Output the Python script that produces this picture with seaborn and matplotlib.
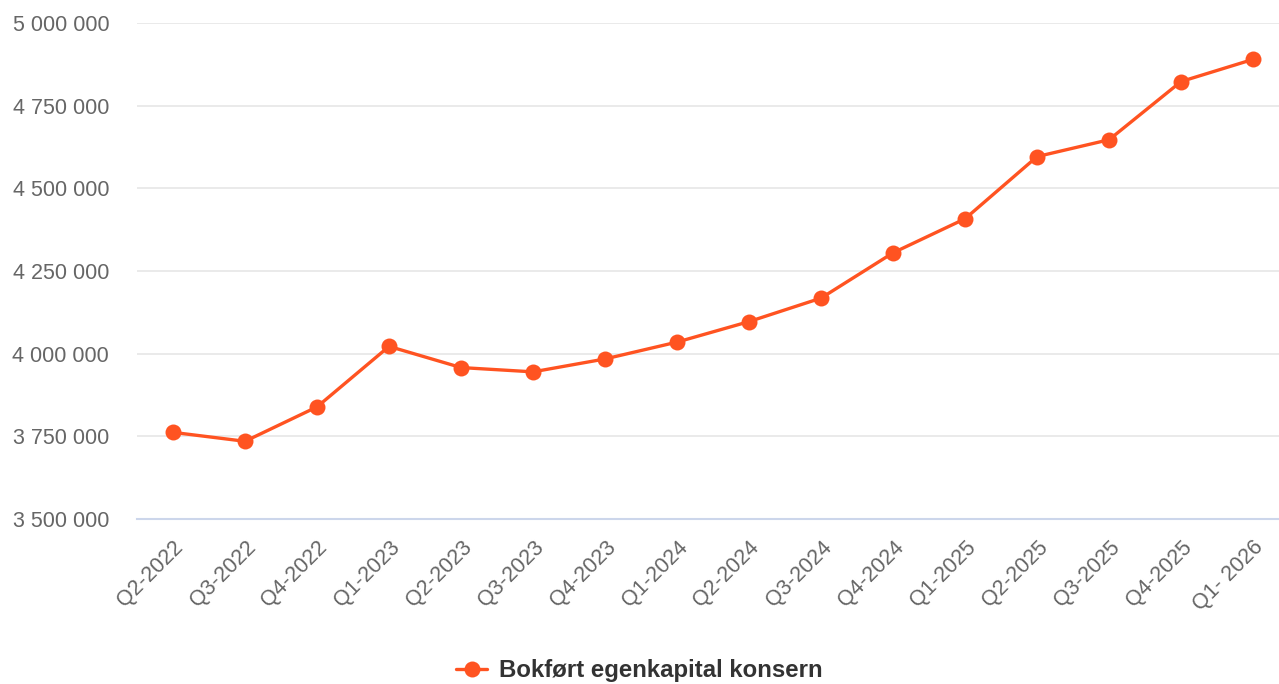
import pandas as pd
import matplotlib
matplotlib.use("Agg")
import matplotlib.pyplot as plt
import matplotlib.ticker as mticker
import seaborn as sns


# Data
quarters = ["Q2-2022", "Q3-2022", "Q4-2022", "Q1-2023", "Q2-2023", "Q3-2023",
            "Q4-2023", "Q1-2024", "Q2-2024", "Q3-2024", "Q4-2024", "Q1-2025",
            "Q2-2025", "Q3-2025", "Q4-2025", "Q1- 2026"]
equity = [3762000, 3735000, 3839000, 4022000, 3958000, 3945000,
          3984000, 4035000, 4097000, 4168000, 4305000, 4408000,
          4596000, 4647000, 4823000, 4890000]
y_ticks = [3500000, 3750000, 4000000, 4250000, 4500000, 4750000, 5000000]
series_name = "Bokført egenkapital konsern"

df = pd.DataFrame({"quarter": quarters, "equity": equity})

sns.set_style("white")
plt.rcParams["font.family"] = ["Liberation Sans", "DejaVu Sans"]

fig = plt.figure(figsize=(12.79, 6.84), dpi=100)
ax = fig.add_axes([137 / 1279, 1 - 519 / 684, 1 - 137 / 1279, (519 - 23) / 684])

line_color = "#ff5321"
sns.lineplot(data=df, x="quarter", y="equity", ax=ax, sort=False,
             color=line_color, linewidth=2.4, marker="o", markersize=11.5,
             markeredgewidth=0, label=series_name, legend=False)

# Axes styling
ax.set_xlim(-0.5, len(quarters) - 0.64)
ax.set_ylim(y_ticks[0], y_ticks[-1])
ax.set_yticks(y_ticks)
ax.yaxis.set_major_formatter(mticker.FuncFormatter(lambda v, p: f"{int(v):,}".replace(",", " ")))
ax.grid(axis="y", color="#e6e6e6", linewidth=1.2)
ax.grid(axis="x", visible=False)
for side in ["top", "right", "left"]:
    ax.spines[side].set_visible(False)
ax.spines["bottom"].set_color("#ccd6eb")
ax.spines["bottom"].set_linewidth(1.5)
ax.set_xlabel("")
ax.set_ylabel("")

ax.tick_params(axis="y", length=0, pad=20, labelsize=15.5, labelcolor="#666666")
ax.tick_params(axis="x", length=0, pad=13, labelsize=15.5, labelcolor="#666666")
plt.setp(ax.get_xticklabels(), rotation=45, ha="right", rotation_mode="anchor")

# Legend at the bottom
handles, labels = ax.get_legend_handles_labels()
fig.legend(handles, labels, loc="center", bbox_to_anchor=(0.5, 1 - 671 / 684),
           frameon=False, handlelength=1.3, handletextpad=0.5,
           prop={"weight": "bold", "size": 17.3})
for t in fig.legends[0].get_texts():
    t.set_color("#333333")

fig.savefig("out.png", dpi=100)
